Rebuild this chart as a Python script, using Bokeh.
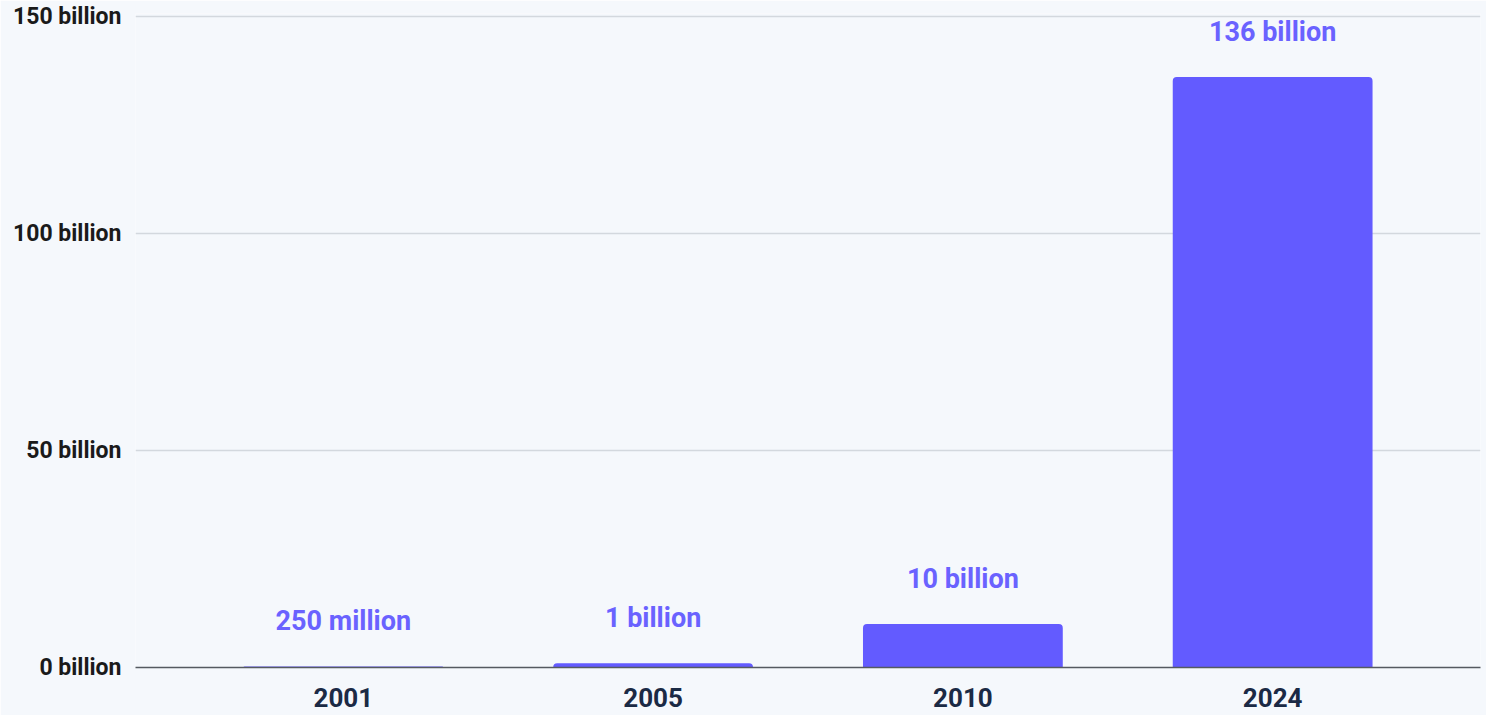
from bokeh.plotting import figure
from bokeh.models import ColumnDataSource, FactorRange, FixedTicker
from bokeh.core.properties import value
from bokeh.embed import file_html
from bokeh.resources import INLINE

years = ["2001", "2005", "2010", "2024"]
values_billion = [0.25, 1, 10, 136]
value_labels = ["250 million", "1 billion", "10 billion", "136 billion"]
y_ticks = [0, 50, 100, 150]
y_tick_labels = ["0 billion", "50 billion", "100 billion", "150 billion"]

BG = "#f5f8fc"
BAR = "#635bff"

src = ColumnDataSource(dict(x=years, top=values_billion, lab=value_labels))

p = figure(width=1486, height=715, output_backend="svg", toolbar_location=None,
           x_range=FactorRange(*years, range_padding=0.0855, range_padding_units="percent"),
           y_range=(0, 150.6),
           background_fill_color=BG, border_fill_color=BG,
           min_border_left=135, min_border_right=6, min_border_top=13, min_border_bottom=48)
p.outline_line_color = None

p.vbar(x="x", top="top", width=0.645, source=src, fill_color=BAR, line_color=None,
       border_radius=(4, 4, 0, 0))
p.text(x="x", y="top", text="lab", source=src, y_offset=-45,
       text_align="center", text_baseline="middle",
       text_font=value("Roboto"), text_font_style="bold", text_font_size="27px",
       text_color="#6a62ff")

p.yaxis.ticker = FixedTicker(ticks=y_ticks)
p.yaxis.major_label_overrides = {t: l for t, l in zip(y_ticks, y_tick_labels)}
p.yaxis.axis_line_color = None
p.yaxis.major_tick_line_color = None
p.yaxis.minor_tick_line_color = None
p.yaxis.major_label_standoff = 8
p.yaxis.major_label_text_font = "Roboto"
p.yaxis.major_label_text_font_style = "bold"
p.yaxis.major_label_text_font_size = "23px"
p.yaxis.major_label_text_color = "#1a1a1a"

p.xaxis.axis_line_color = "#555a60"
p.xaxis.axis_line_width = 1.5
p.xaxis.major_tick_line_color = None
p.xaxis.minor_tick_line_color = None
p.xaxis.major_label_standoff = 14
p.xaxis.major_label_text_font = "Roboto"
p.xaxis.major_label_text_font_style = "bold"
p.xaxis.major_label_text_font_size = "26px"
p.xaxis.major_label_text_color = "#1b2a45"

p.xgrid.grid_line_color = None
p.ygrid.grid_line_color = "#d3d8de"
p.ygrid.grid_line_width = 1.5

open("out.html", "w").write(file_html(p, INLINE))
